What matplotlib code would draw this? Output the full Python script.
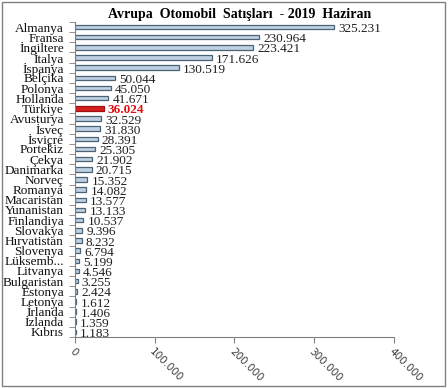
import matplotlib.pyplot as plt
from matplotlib.patches import Rectangle
from matplotlib.ticker import FixedLocator

# Veri
ulkeler = ['Almanya', 'Fransa', 'İngiltere', 'İtalya', 'İspanya', 'Belçika', 'Polonya',
           'Hollanda', 'Türkiye', 'Avusturya', 'İsveç', 'İsviçre', 'Portekiz', 'Çekya',
           'Danimarka', 'Norveç', 'Romanya', 'Macaristan', 'Yunanistan', 'Finlandiya',
           'Slovakya', 'Hırvatistan', 'Slovenya', 'Lüksemb...', 'Litvanya', 'Bulgaristan',
           'Estonya', 'Letonya', 'İrlanda', 'İzlanda', 'Kıbrıs']
satislar = [325231, 230964, 223421, 171626, 130519, 50044, 45050,
            41671, 36024, 32529, 31830, 28391, 25305, 21902,
            20715, 15352, 14082, 13577, 13133, 10537,
            9396, 8232, 6794, 5199, 4546, 3255,
            2424, 1612, 1406, 1359, 1183]
x_ticks = [0, 100000, 200000, 300000, 400000]
vurgu = 'Türkiye'


def nokta(v):
    return f"{v:,}".replace(',', '.')


fig = plt.figure(figsize=(4.48, 3.88), dpi=100)
ax = fig.add_axes([0.1674, 0.1314, 0.712, 0.812])

pos = list(range(len(ulkeler)))
renkler = ['#d42020' if u == vurgu else '#bed0e2' for u in ulkeler]
kenar = ['#a01010' if u == vurgu else '#4c6275' for u in ulkeler]
ax.barh(pos, satislar, height=0.45, color=renkler, edgecolor=kenar, linewidth=0.9)

for p, u, v in zip(pos, ulkeler, satislar):
    if u == vurgu:
        ax.annotate(nokta(v), (v, p), xytext=(3, -1.5), textcoords='offset points',
                    va='center', ha='left', fontsize=9.5, color='#e01010',
                    family='Liberation Serif', fontweight='bold')
    else:
        ax.annotate(nokta(v), (v, p), xytext=(3, -1.5), textcoords='offset points',
                    va='center', ha='left', fontsize=9.5, color='#202020',
                    family='Liberation Serif')

ax.set_xlim(0, 400000)
ax.set_ylim(len(ulkeler) - 0.5, -0.5)

ax.set_yticks(pos)
ax.set_yticklabels(ulkeler, family='Liberation Serif', fontsize=9.5, color='#101010')
ax.tick_params(axis='y', which='major', length=0, pad=8)
ax.yaxis.set_minor_locator(FixedLocator([p - 0.5 for p in pos] + [len(pos) - 0.5]))
ax.tick_params(axis='y', which='minor', length=4, color='#808080')

ax.set_xticks(x_ticks)
ax.set_xticklabels([nokta(t) for t in x_ticks], rotation=-45, ha='left',
                   rotation_mode='anchor', fontsize=7.5, color='#404040',
                   family='DejaVu Sans')
ax.tick_params(axis='x', length=4, color='#808080', pad=3)

for s in ['top', 'right']:
    ax.spines[s].set_visible(False)
for s in ['left', 'bottom']:
    ax.spines[s].set_color('#808080')

fig.text(0.535, 0.962, 'Avrupa  Otomobil  Satışları  - 2019  Haziran', ha='center',
         va='center', fontsize=10, fontweight='bold', family='Liberation Serif')

fig.patches.append(Rectangle((0.004, 0.004), 0.99, 0.992, transform=fig.transFigure,
                             fill=False, edgecolor='#808080', linewidth=1))

fig.savefig('out.png', dpi=100)
